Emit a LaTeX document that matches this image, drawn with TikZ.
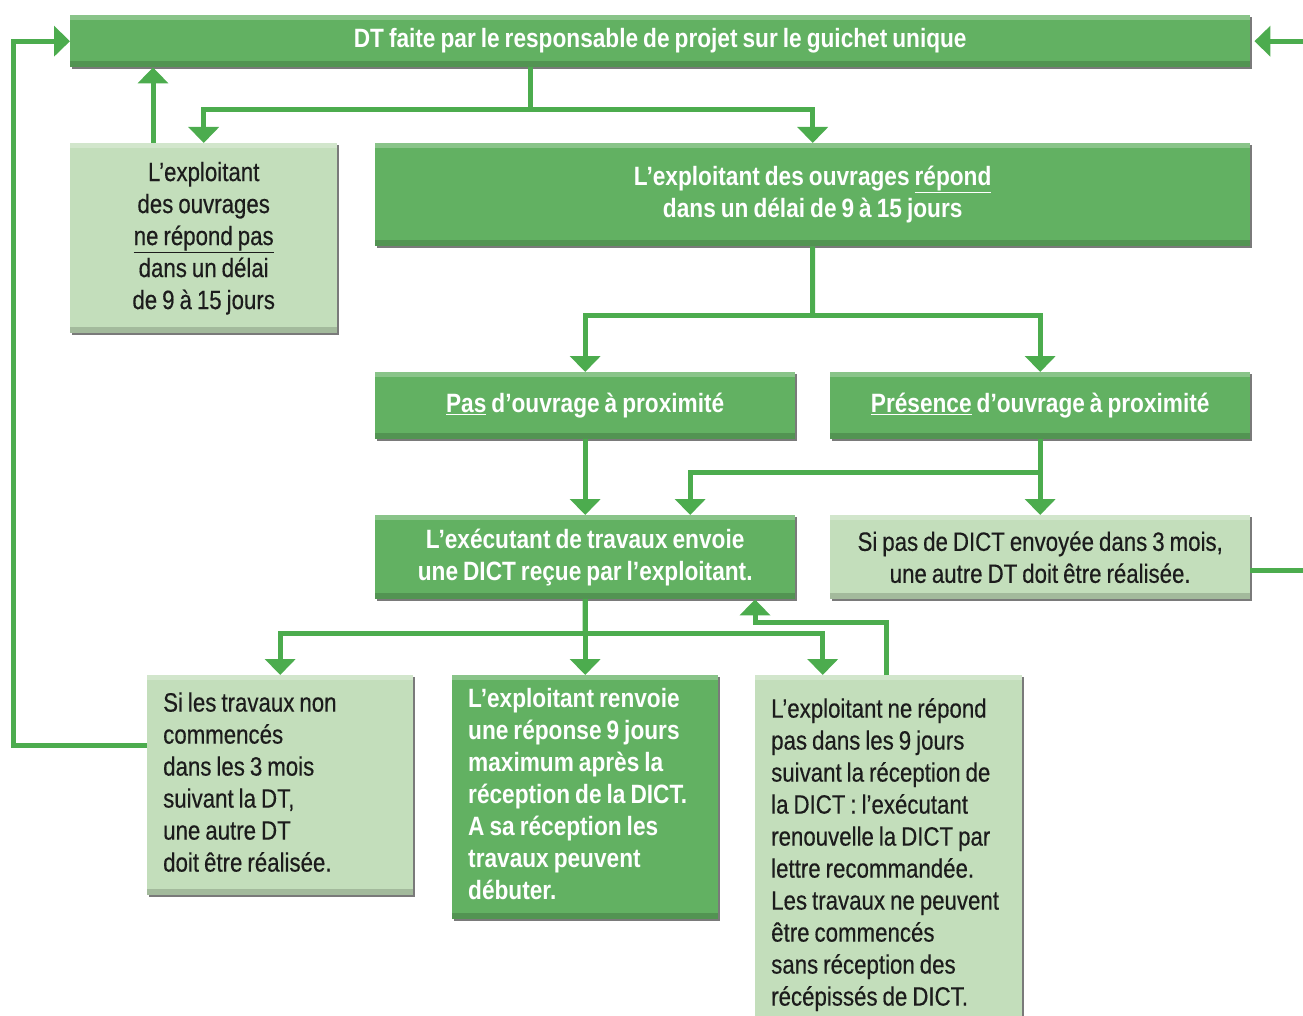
\documentclass[tikz,border=0pt]{standalone}
\usepackage{fontspec}
\setmainfont{Liberation Sans}[UprightFeatures={FakeStretch=0.84,FakeBold=0.4},BoldFeatures={FakeStretch=0.855}]
\usetikzlibrary{arrows.meta,shadows,calc}
\definecolor{lg}{RGB}{76,172,78}
\definecolor{dbox}{RGB}{98,177,98}
\definecolor{lbox}{RGB}{195,222,187}
\definecolor{txt}{RGB}{28,28,28}
\newcommand{\wordgap}{\spaceskip=5pt plus 2pt minus 1pt\relax}
\newcommand{\leftlines}[1]{\wordgap\begin{tabular}{@{}l@{}}#1\end{tabular}}
\newcommand{\boxfont}{\fontsize{26.5}{32}\selectfont\wordgap}
\tikzset{
  boxbase/.style={rectangle, inner sep=0pt, anchor=north west,
    drop shadow={shadow xshift=2pt,shadow yshift=-2pt,fill=black!65,opacity=0.8},
    path picture={
      \fill[white,opacity=0.25] (path picture bounding box.north west) rectangle ([yshift=-5pt]path picture bounding box.north east);
      \fill[black,opacity=0.16] ([yshift=6pt]path picture bounding box.south west) rectangle (path picture bounding box.south east);
    }},
  darkbox/.style={boxbase, fill=dbox, text=white, font=\bfseries\boxfont, align=center},
  lightbox/.style={boxbase, fill=lbox, text=txt, font=\boxfont, align=center},
  leftset/.style={align=flush left, inner xsep=16pt},
  conn/.style={draw=lg, line width=5pt},
  arr/.style={conn, -{Triangle[width=30pt,length=16pt]}},
}
\begin{document}
\begin{tikzpicture}[x=1pt,y=-1pt]
\useasboundingbox (0,0) rectangle (1303,1016);
% boxes
\node[darkbox, minimum width=1180pt, minimum height=52pt] (top) at (70,15)
  {DT faite par le responsable de projet sur le guichet unique};
\node[lightbox, minimum width=267pt, minimum height=190pt] (nrp) at (70,143)
  {L’exploitant\\des ouvrages\\\underline{ne répond pas}\\dans un délai\\de 9 à 15 jours};
\node[darkbox, minimum width=875pt, minimum height=103pt] (rep) at (375,143)
  {L’exploitant des ouvrages \underline{répond}\\dans un délai de 9 à 15 jours};
\node[darkbox, minimum width=420pt, minimum height=67pt] (pas) at (375,372)
  {\underline{Pas} d’ouvrage à proximité};
\node[darkbox, minimum width=420pt, minimum height=67pt] (pres) at (830,372)
  {\underline{Présence} d’ouvrage à proximité};
\node[darkbox, minimum width=420pt, minimum height=84pt] (exe) at (375,515)
  {L’exécutant de travaux envoie\\une DICT reçue par l’exploitant.};
\node[lightbox, minimum width=420pt, minimum height=84pt] (dict) at (830,515)
  {Si pas de DICT envoyée dans 3 mois,\\une autre DT doit être réalisée.};
\node[lightbox, leftset, text width=234pt, minimum height=220pt] (trav) at (147,675)
  {\leftlines{Si les travaux non\\commencés\\dans les 3 mois\\suivant la DT,\\une autre DT\\doit être réalisée.}};
\node[darkbox, leftset, text width=234pt, minimum height=244pt] (renv) at (452,675)
  {\leftlines{L’exploitant renvoie\\une réponse 9 jours\\maximum après la\\réception de la DICT.\\A sa réception les\\travaux peuvent\\débuter.}};
\node[lightbox, leftset, text width=235pt, minimum height=360pt] (nep) at (755,675)
  {\leftlines{L’exploitant ne répond\\pas dans les 9 jours\\suivant la réception de\\la DICT : l’exécutant\\renouvelle la DICT par\\lettre recommandée.\\Les travaux ne peuvent\\être commencés\\sans réception des\\récépissés de DICT.}};
% junctions
\coordinate (j1) at (530,110);
\coordinate (j2) at (812.5,315);
\coordinate (j3) at (1040,472);
\coordinate (j4) at (585,633);
\coordinate (j5) at (755,622);
\coordinate (a1) at ([xshift=83pt]nrp.north west);
% connectors
\draw[conn] (top.south -| j1) -- (j1);
\draw[arr] (j1) -| (nrp.north);
\draw[arr] (j1) -| (rep.north);
\draw[arr] (a1) -- (a1 |- top.south);
\draw[arr] ([yshift=40pt]trav.west) -| ([xshift=-57pt]top.west) -- (top.west);
\draw[arr] ([yshift=-13pt]dict.east) -| ([xshift=80pt]top.east) -- ([xshift=4pt]top.east);
\draw[conn] (rep.south) -- (j2);
\draw[arr] (j2) -| (pas.north);
\draw[arr] (j2) -| (pres.north);
\draw[arr] (pas.south) -- (exe.north);
\draw[arr] (pres.south) -- (dict.north);
\draw[arr] (j3) -| ([xshift=105pt]exe.north);
\draw[conn] (exe.south) -- (j4);
\draw[arr] (j4) -| (trav.north);
\draw[arr] (exe.south) -- (renv.north);
\draw[arr] (j4) -| ([xshift=-66pt]nep.north);
\draw[arr] ([xshift=-2pt]nep.north) |- (j5) -- (j5 |- exe.south);
\end{tikzpicture}
\end{document}
